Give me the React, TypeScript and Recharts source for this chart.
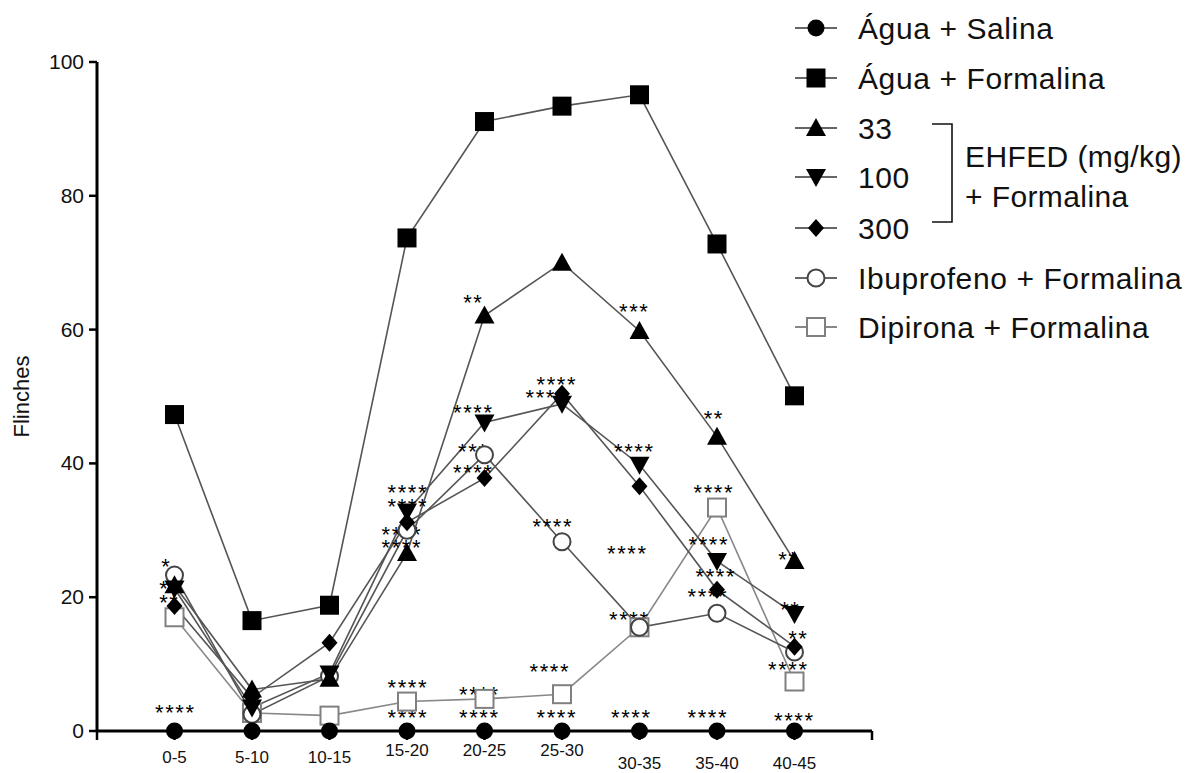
import React from 'react';
import { ComposedChart, Line, Scatter, XAxis, YAxis, Legend } from 'recharts';

const categories = ['0-5', '5-10', '10-15', '15-20', '20-25', '25-30', '30-35', '35-40', '40-45'];
const aguaSalina = [0, 0, 0, 0, 0, 0, 0, 0, 0];
const aguaFormalina = [47.3, 16.5, 18.8, 73.7, 91.1, 93.4, 95.1, 72.8, 50.1];
const ehfed33 = [21.8, 6.2, 7.8, 26.6, 62.1, 70.0, 59.8, 44.0, 25.4];
const ehfed100 = [21.3, 3.5, 8.6, 32.8, 46.1, 48.9, 39.8, 25.4, 17.5];
const ehfed300 = [18.7, 5.0, 13.2, 31.2, 37.8, 50.4, 36.6, 21.1, 12.6];
const ibuprofeno = [23.3, 2.5, 8.2, 30.0, 41.3, 28.3, 15.5, 17.6, 11.8];
const dipirona = [17.0, 2.7, 2.3, 4.4, 4.8, 5.5, 15.5, 33.4, 7.4];

const seriesNames = ['Água + Salina', 'Água + Formalina', '33', '100', '300', 'Ibuprofeno + Formalina', 'Dipirona + Formalina'];
const groupLabel = ['EHFED (mg/kg)', '+ Formalina'];
const yTicks = [0, 20, 40, 60, 80, 100];
const xTicks = [0, 1, 2, 3, 4, 5, 6, 7, 8, 9, 10];

// significance marks: category index, value level, text
const annCat = [0, 0, 0, 0, 3, 3, 3, 3, 3, 3, 4, 4, 4, 4, 4, 4, 5, 5, 5, 5, 5, 6, 6, 6, 6, 6, 7, 7, 7, 7, 7, 7, 8, 8, 8, 8, 8];
const annY = [25.2, 22.0, 19.9, 3.4, 36.3, 34.2, 30.0, 28.1, 7.2, 2.7, 64.7, 48.3, 42.5, 39.3, 6.1, 2.7, 52.5, 50.5, 31.2, 9.6, 2.7, 63.4, 42.5, 27.2, 17.3, 2.7, 47.4, 36.3, 28.6, 23.8, 20.8, 2.7, 26.3, 18.8, 14.5, 9.9, 2.2];
const annText = ['*', '**', '**', '****', '****', '****', '****', '****', '****', '****', '**', '****', '***', '****', '****', '****', '****', '****', '****', '****', '****', '***', '****', '****', '****', '****', '**', '****', '****', '****', '****', '****', '**', '**', '**', '****', '****'];
const annDx = [-9, -6, -6, 0, 0, 0, -6, -6, 0, 0, -12, -12, -12, -12, -6, -6, -6, -17, -10, -13, -6, -6, -6, -13, -11, -9, -4, -4, -9, -2, -10, -10, -7, -5, 3, -7, -1];

const data = categories.map((c, i) => ({
  x: i + 1,
  cat: c,
  salina: aguaSalina[i],
  formalina: aguaFormalina[i],
  d33: ehfed33[i],
  d100: ehfed100[i],
  d300: ehfed300[i],
  ibu: ibuprofeno[i],
  dip: dipirona[i],
}));

const annotations = annCat.map((c, i) => ({ x: c + 1, y: annY[i], text: annText[i], dx: annDx[i] }));

const FONT = '"Liberation Sans", Arial, sans-serif';
const LINE = '#555';

type MarkerKind = 'circle' | 'square' | 'up' | 'down' | 'diamond' | 'ocircle' | 'osquare';

function marker(kind: MarkerKind, cx: number, cy: number, key?: string | number) {
  switch (kind) {
    case 'circle':
      return <circle key={key} cx={cx} cy={cy} r={8.5} fill="#000" />;
    case 'square':
      return <rect key={key} x={cx - 9.5} y={cy - 9.5} width={19} height={19} fill="#000" />;
    case 'up':
      return <polygon key={key} points={`${cx},${cy - 10} ${cx - 10},${cy + 8} ${cx + 10},${cy + 8}`} fill="#000" />;
    case 'down':
      return <polygon key={key} points={`${cx},${cy + 10} ${cx - 10},${cy - 8} ${cx + 10},${cy - 8}`} fill="#000" />;
    case 'diamond':
      return <polygon key={key} points={`${cx},${cy - 9} ${cx + 8},${cy} ${cx},${cy + 9} ${cx - 8},${cy}`} fill="#000" />;
    case 'ocircle':
      return <circle key={key} cx={cx} cy={cy} r={8.5} fill="#fff" stroke="#444" strokeWidth={2} />;
    case 'osquare':
      return <rect key={key} x={cx - 9} y={cy - 9} width={18} height={18} fill="#fff" stroke="#808080" strokeWidth={2} />;
  }
  return null;
}

const kinds: MarkerKind[] = ['circle', 'square', 'up', 'down', 'diamond', 'ocircle', 'osquare'];

const dotFor = (kind: MarkerKind) => (props: any) => {
  const { cx, cy, index } = props;
  if (cx == null || cy == null) return <g key={index} />;
  return marker(kind, cx, cy, index);
};

const labelDy = [21, 21, 21, 14, 14, 14, 27, 27, 27];

const XTick = (props: any) => {
  const { x, y, payload } = props;
  const i = payload.value - 1;
  if (i < 0 || i >= categories.length) return <g />;
  return (
    <text x={x} y={y + labelDy[i]} textAnchor="middle" fontSize={17} fontFamily={FONT} fill="#111">
      {categories[i]}
    </text>
  );
};

const YTick = (props: any) => {
  const { x, y, payload } = props;
  return (
    <text x={x} y={y + 7} textAnchor="end" fontSize={21} fontFamily={FONT} fill="#111">
      {payload.value}
    </text>
  );
};

const AnnShape = (props: any) => {
  const { cx, cy, payload } = props;
  if (cx == null || cy == null) return <g />;
  return (
    <text
      x={cx + (payload.dx || 0) + 0.8}
      y={cy + 12}
      textAnchor="middle"
      fontSize={22}
      letterSpacing={1.6}
      fontFamily={FONT}
      fill="#000"
    >
      {payload.text}
    </text>
  );
};

const rowY = [28, 78, 128, 177, 228, 278, 327];

const LegendContent = () => (
  <svg width={417} height={360} style={{ display: 'block' }}>
    {seriesNames.map((name, i) => (
      <g key={name}>
        <line x1={15} x2={57} y1={rowY[i]} y2={rowY[i]} stroke={i === 6 ? '#888' : '#666'} strokeWidth={2} />
        {marker(kinds[i], 36, rowY[i])}
        <text x={78} y={rowY[i] + 11} fontSize={30} letterSpacing={0.6} fontFamily={FONT} fill="#111">
          {name}
        </text>
      </g>
    ))}
    <polyline points="152,124 172,124 172,222 152,222" fill="none" stroke="#111" strokeWidth={1.6} />
    <text x={185} y={167} fontSize={30} letterSpacing={0.4} fontFamily={FONT} fill="#111">{groupLabel[0]}</text>
    <text x={185} y={207} fontSize={30} letterSpacing={0.4} fontFamily={FONT} fill="#111">{groupLabel[1]}</text>
  </svg>
);

export default function App() {
  return (
    <div style={{ position: 'absolute', left: 0, top: 0, width: 1197, height: 773, background: '#fff' }}>
      <ComposedChart
        width={1197}
        height={773}
        data={data}
        margin={{ top: 62, right: 325, bottom: 2, left: 0 }}
      >
        <XAxis
          dataKey="x"
          type="number"
          domain={[0, 10]}
          ticks={xTicks}
          interval={0}
          tick={<XTick />}
          tickSize={9}
          tickLine={{ stroke: '#000', strokeWidth: 2.5 }}
          axisLine={{ stroke: '#000', strokeWidth: 3 }}
          height={40}
          allowDataOverflow
        />
        <YAxis
          type="number"
          domain={[0, 100]}
          ticks={yTicks}
          interval={0}
          width={97}
          tick={<YTick />}
          tickSize={8}
          tickMargin={5}
          tickLine={{ stroke: '#000', strokeWidth: 2.5 }}
          axisLine={{ stroke: '#000', strokeWidth: 3 }}
          label={{
            content: (p: any) => {
              const vb = p.viewBox || { y: 62, height: 669 };
              const cy = vb.y + vb.height / 2;
              return (
                <text x={29} y={cy} transform={`rotate(-90 29 ${cy})`} textAnchor="middle" fontSize={22} fontFamily={FONT} fill="#111">
                  Flinches
                </text>
              );
            },
          }}
        />
        <Scatter data={annotations} dataKey="y" shape={<AnnShape />} isAnimationActive={false} legendType="none" />
        <Line dataKey="dip" stroke="#888" strokeWidth={1.6} dot={dotFor('osquare')} activeDot={false} isAnimationActive={false} />
        <Line dataKey="ibu" stroke={LINE} strokeWidth={1.6} dot={dotFor('ocircle')} activeDot={false} isAnimationActive={false} />
        <Line dataKey="d33" stroke={LINE} strokeWidth={1.6} dot={dotFor('up')} activeDot={false} isAnimationActive={false} />
        <Line dataKey="d100" stroke={LINE} strokeWidth={1.6} dot={dotFor('down')} activeDot={false} isAnimationActive={false} />
        <Line dataKey="d300" stroke={LINE} strokeWidth={1.6} dot={dotFor('diamond')} activeDot={false} isAnimationActive={false} />
        <Line dataKey="formalina" stroke={LINE} strokeWidth={1.6} dot={dotFor('square')} activeDot={false} isAnimationActive={false} />
        <Line dataKey="salina" stroke={LINE} strokeWidth={1.6} dot={dotFor('circle')} activeDot={false} isAnimationActive={false} />
        <Legend
          layout="horizontal"
          verticalAlign="middle"
          align="center"
          content={<LegendContent />}
          wrapperStyle={{ left: 780, top: 0, width: 417, height: 360 }}
        />
      </ComposedChart>
    </div>
  );
}
